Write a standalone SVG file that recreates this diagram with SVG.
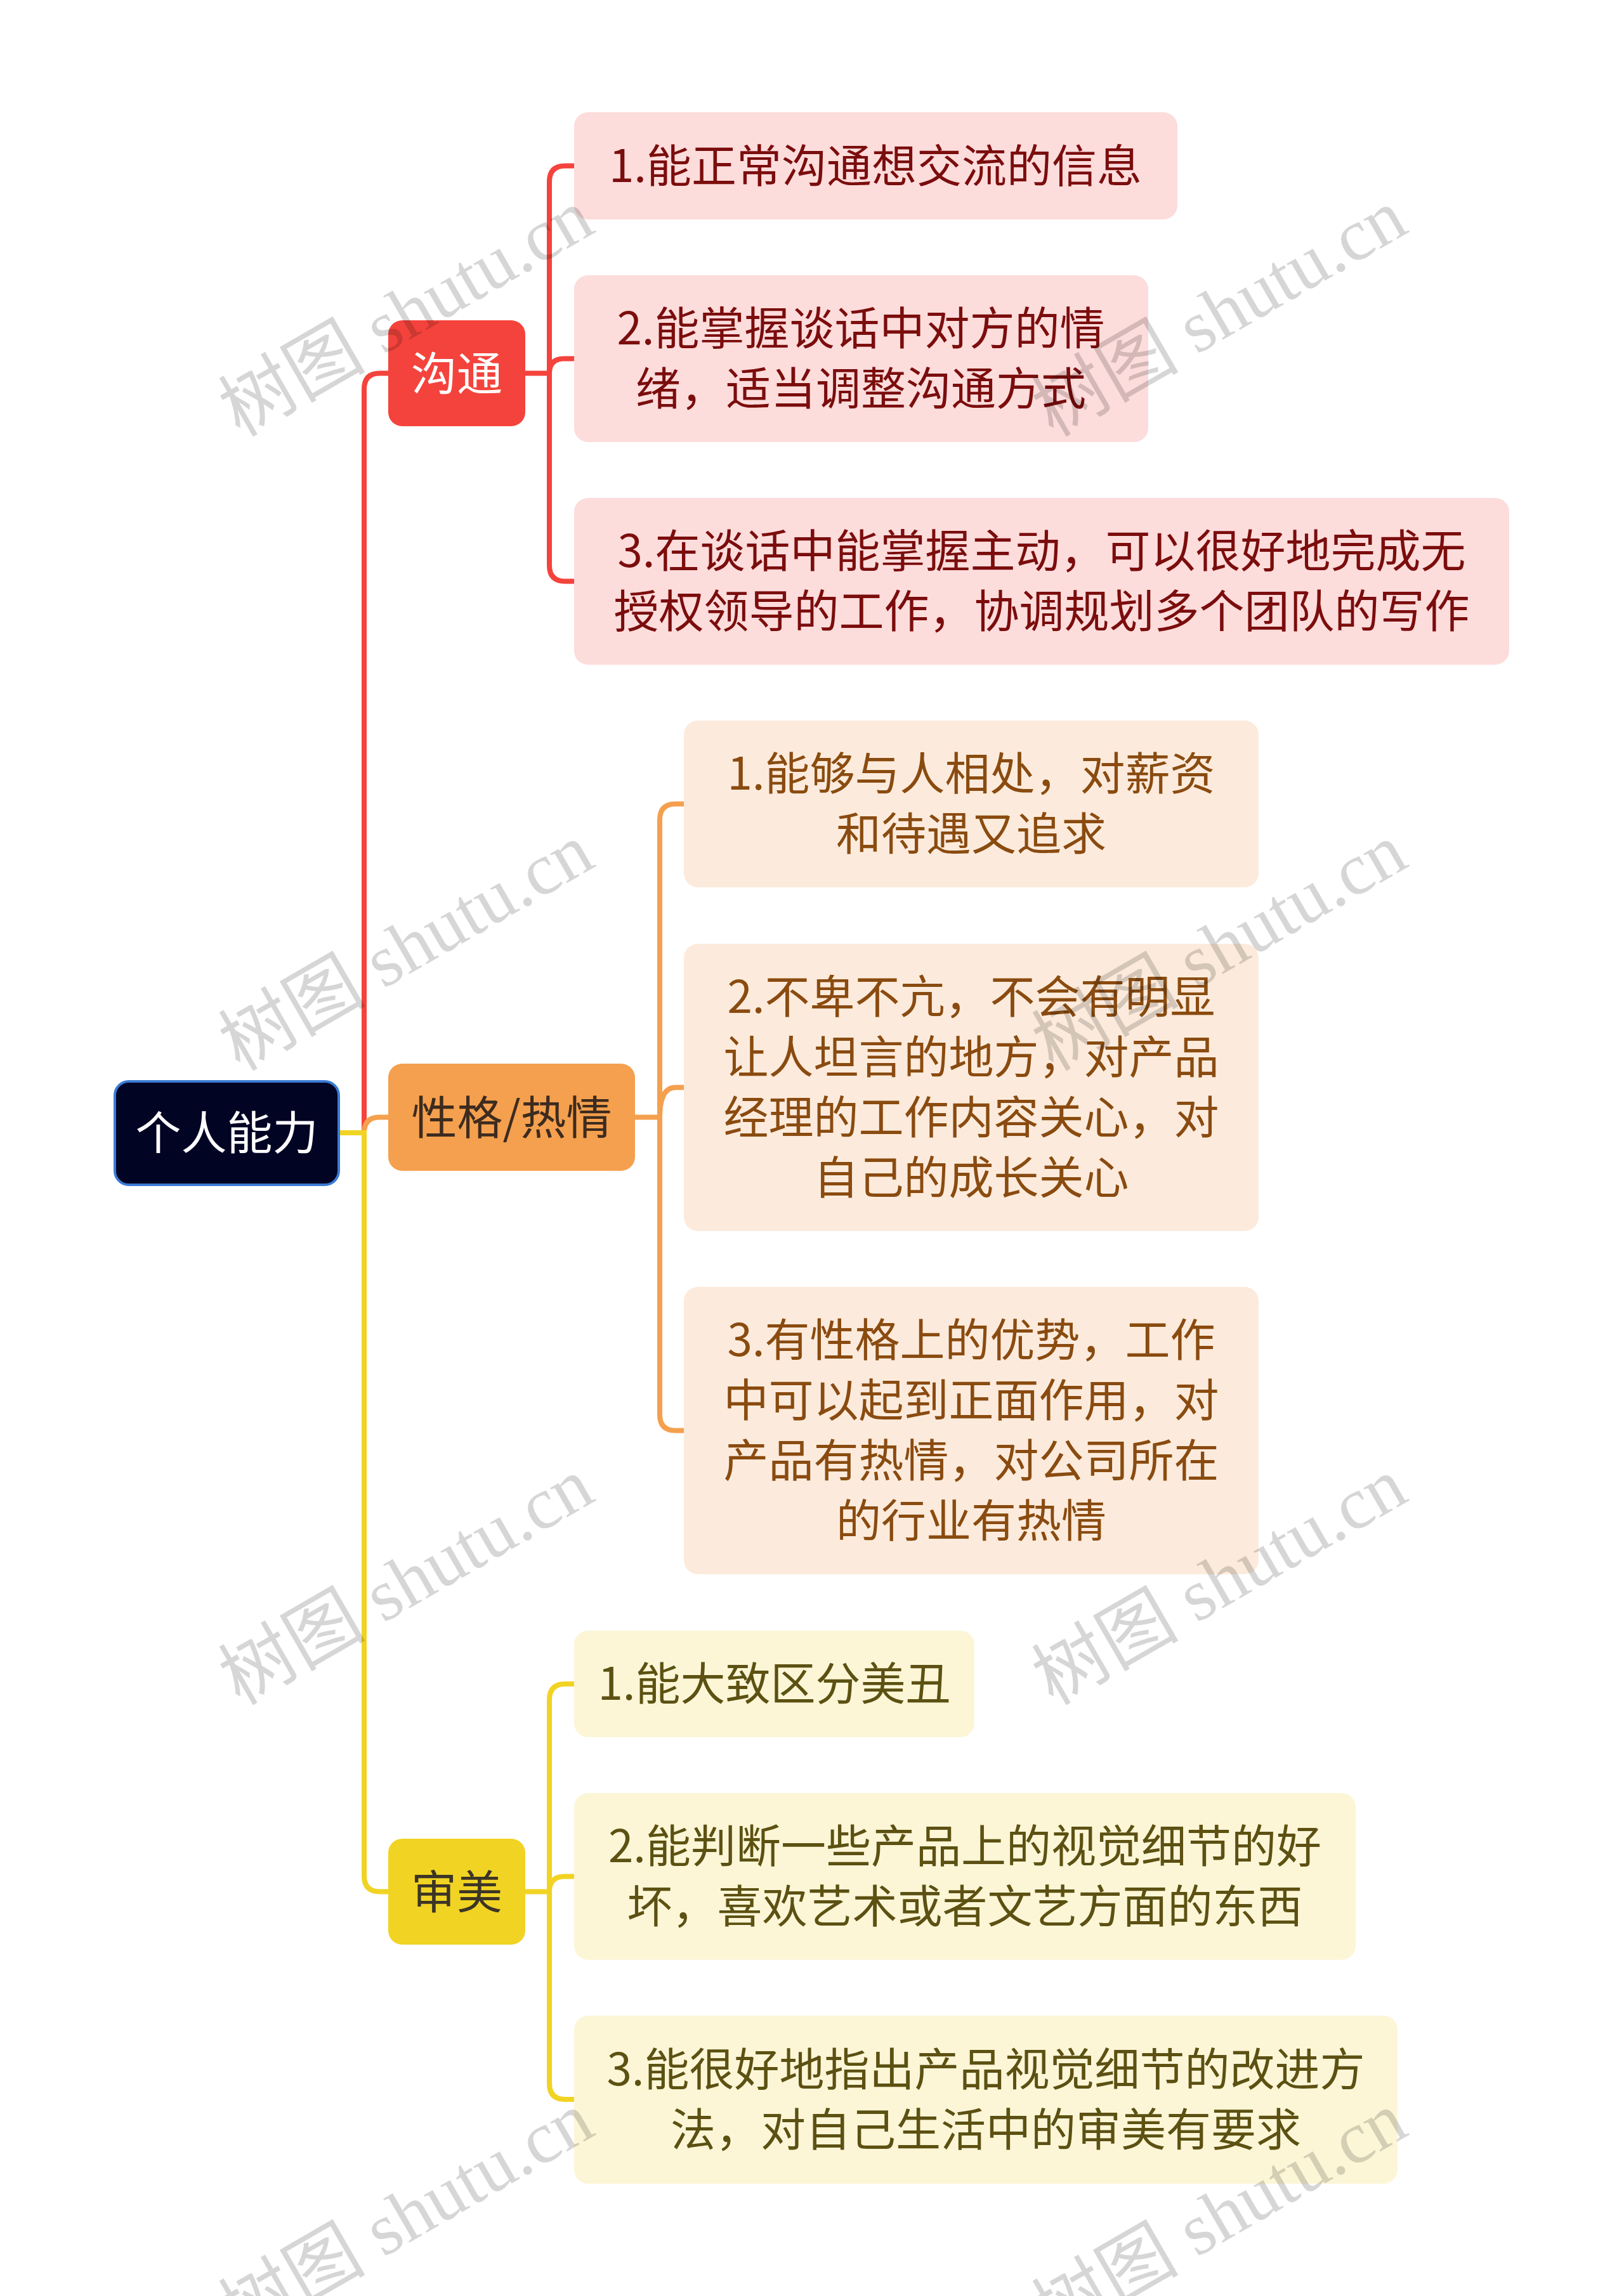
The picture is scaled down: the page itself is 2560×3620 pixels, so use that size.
<svg xmlns="http://www.w3.org/2000/svg" width="2560" height="3620" viewBox="0 0 2560 3620">
<style>
text{font-family:"Noto Sans CJK SC","Noto Sans",sans-serif;text-anchor:middle;dominant-baseline:central}
.conn path{fill:none;stroke-width:8;stroke-linecap:butt}
.r{stroke:#F4433C}.o{stroke:#F4A04E}.y{stroke:#F1D323}
.leafR{fill:#FDDCDC}.leafO{fill:#FCEBDC}.leafY{fill:#FCF6D7}
.tR{fill:#7B0D0D;font-size:71px}.tO{fill:#8A4B10;font-size:71px}.tY{fill:#5C5112;font-size:71px}
.br{font-size:72px}
.wm{font-family:"Liberation Serif","Noto Sans CJK SC",serif;font-size:116px;fill:#000;fill-opacity:0.16;text-anchor:start;dominant-baseline:alphabetic}
</style>
<rect width="2560" height="3620" fill="#ffffff"/>
<g id="connectors" class="conn">
  <path class="r" d="M574 1786 V613.5 Q574 588.5 599 588.5 H612"/>
  <path class="o" d="M574 1786 Q574 1761.5 598 1761.5 H612"/>
  <path class="y" d="M536 1786 H574 V2957.5 Q574 2982.5 599 2982.5 H612"/>
  <path class="r" d="M828 588.5 H866 M866 588.5 V286.5 Q866 261.5 891 261.5 H905 M866 588.5 Q866 565.5 889 565.5 H905 M866 588.5 V891.5 Q866 916.5 891 916.5 H905"/>
  <path class="o" d="M1001 1761.5 H1040 M1040 1761.5 V1292.5 Q1040 1267.5 1065 1267.5 H1078 M1040 1761.5 Q1040 1714.5 1065 1714.5 H1078 M1040 1761.5 V2230.5 Q1040 2255.5 1065 2255.5 H1078"/>
  <path class="y" d="M828 2982.5 H866 M866 2982.5 V2680 Q866 2655 891 2655 H905 M866 2982.5 Q866 2958.5 890 2958.5 H905 M866 2982.5 V3285 Q866 3310 891 3310 H905"/>
</g>
<g id="root">
  <rect x="181" y="1705" width="353" height="163" rx="22" fill="#020424" stroke="#3A7BD5" stroke-width="4"/>
  <text class="br" x="357.5" y="1780" fill="#ffffff">个人能力</text>
</g>
<g id="b-goutong">
  <rect x="612" y="505" width="216" height="167" rx="22" fill="#F4433C"/>
  <text class="br" x="720" y="583" fill="#ffffff">沟通</text>
</g>
<g id="b-xingge">
  <rect x="612" y="1677" width="389" height="169" rx="22" fill="#F4A04E"/>
  <text class="br" x="806.5" y="1756" fill="#3D2B1F">性格/热情</text>
</g>
<g id="b-shenmei">
  <rect x="612" y="2899" width="216" height="167" rx="22" fill="#F1D323"/>
  <text class="br" x="720" y="2977" fill="#3C3526">审美</text>
</g>
<g id="r1">
  <rect class="leafR" x="905" y="177" width="951" height="169" rx="22"/>
  <text class="tR" x="1380" y="255.5">1.能正常沟通想交流的信息</text>
</g>
<g id="r2">
  <rect class="leafR" x="905" y="434" width="905" height="263" rx="22"/>
  <text class="tR" x="1357" y="511.5">2.能掌握谈话中对方的情</text>
  <text class="tR" x="1357" y="606.5">绪，适当调整沟通方式</text>
</g>
<g id="r3">
  <rect class="leafR" x="905" y="785" width="1474" height="263" rx="22"/>
  <text class="tR" x="1642" y="862.5">3.在谈话中能掌握主动，可以很好地完成无</text>
  <text class="tR" x="1642" y="957.5">授权领导的工作，协调规划多个团队的写作</text>
</g>
<g id="o1">
  <rect class="leafO" x="1078" y="1136" width="906" height="263" rx="22"/>
  <text class="tO" x="1531" y="1214">1.能够与人相处，对薪资</text>
  <text class="tO" x="1531" y="1309">和待遇又追求</text>
</g>
<g id="o2">
  <rect class="leafO" x="1078" y="1488" width="906" height="453" rx="22"/>
  <text class="tO" x="1531" y="1566">2.不卑不亢，不会有明显</text>
  <text class="tO" x="1531" y="1661">让人坦言的地方，对产品</text>
  <text class="tO" x="1531" y="1756">经理的工作内容关心，对</text>
  <text class="tO" x="1531" y="1851">自己的成长关心</text>
</g>
<g id="o3">
  <rect class="leafO" x="1078" y="2029" width="906" height="453" rx="22"/>
  <text class="tO" x="1531" y="2107">3.有性格上的优势，工作</text>
  <text class="tO" x="1531" y="2202">中可以起到正面作用，对</text>
  <text class="tO" x="1531" y="2297">产品有热情，对公司所在</text>
  <text class="tO" x="1531" y="2392">的行业有热情</text>
</g>
<g id="y1">
  <rect class="leafY" x="905" y="2571" width="631" height="168" rx="22"/>
  <text class="tY" x="1220.5" y="2649">1.能大致区分美丑</text>
</g>
<g id="y2">
  <rect class="leafY" x="905" y="2827" width="1232" height="263" rx="22"/>
  <text class="tY" x="1521" y="2905">2.能判断一些产品上的视觉细节的好</text>
  <text class="tY" x="1521" y="3000">坏，喜欢艺术或者文艺方面的东西</text>
</g>
<g id="y3">
  <rect class="leafY" x="905" y="3178" width="1298" height="265" rx="22"/>
  <text class="tY" x="1554" y="3257">3.能很好地指出产品视觉细节的改进方</text>
  <text class="tY" x="1554" y="3352">法，对自己生活中的审美有要求</text>
</g>
<g id="watermark">
  <text class="wm" transform="translate(378 690) rotate(-30)">树图 shutu.cn</text>
  <text class="wm" transform="translate(1660 690) rotate(-30)">树图 shutu.cn</text>
  <text class="wm" transform="translate(378 1690) rotate(-30)">树图 shutu.cn</text>
  <text class="wm" transform="translate(1660 1690) rotate(-30)">树图 shutu.cn</text>
  <text class="wm" transform="translate(378 2690) rotate(-30)">树图 shutu.cn</text>
  <text class="wm" transform="translate(1660 2690) rotate(-30)">树图 shutu.cn</text>
  <text class="wm" transform="translate(378 3690) rotate(-30)">树图 shutu.cn</text>
  <text class="wm" transform="translate(1660 3690) rotate(-30)">树图 shutu.cn</text>
</g>
</svg>
